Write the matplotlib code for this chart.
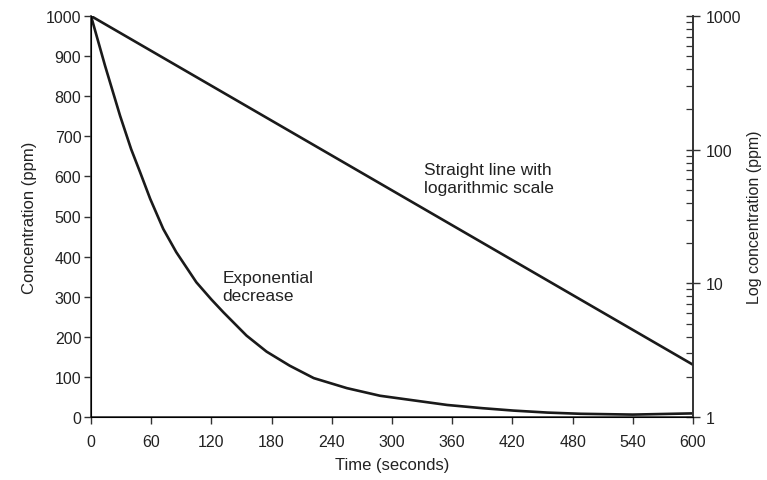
import matplotlib
matplotlib.use("Agg")
import matplotlib.pyplot as plt
from matplotlib.ticker import LogLocator, NullFormatter, FixedLocator

plt.rcParams['font.family'] = ['Liberation Sans', 'DejaVu Sans']

# Data
time_exp = [0, 14, 29, 40, 49, 59, 72, 85, 105, 120, 132, 155, 175, 198, 222, 255, 288, 320,
            355, 390, 421, 455, 488, 540, 600]
conc_exp = [1000, 876, 751, 668, 610, 544, 469, 411, 336, 293, 261, 203, 163, 128, 97, 72, 53, 42,
            30, 22, 16, 11, 8, 6, 9]

time_log = [0, 600]
conc_log = [1000, 2.46]

x_ticks = [0, 60, 120, 180, 240, 300, 360, 420, 480, 540, 600]
y_ticks = [0, 100, 200, 300, 400, 500, 600, 700, 800, 900, 1000]
log_ticks = [1, 10, 100, 1000]

text_col = '#222222'
axis_col = '#333333'
line_col = '#1a1a1a'

fig = plt.figure(figsize=(7.67, 4.81), dpi=100)
ax = fig.add_axes([91/767, 1 - 418/481, (693 - 91)/767, (418 - 17)/481])

ax.plot(time_exp, conc_exp, color=line_col, lw=1.9, solid_joinstyle='round')
ax.set_xlim(0, 600)
ax.set_ylim(0, 1000)
ax.set_xticks(x_ticks)
ax.set_yticks(y_ticks)
ax.tick_params(axis='both', direction='out', length=5, width=1.0, colors=axis_col,
               labelcolor=text_col, labelsize=11.5)
ax.tick_params(axis='x', pad=7)
ax.tick_params(axis='y', pad=2)
ax.spines['top'].set_visible(False)
for side in ['left', 'bottom', 'right']:
    ax.spines[side].set_color(axis_col)
    ax.spines[side].set_linewidth(1.2)
ax.set_xlabel('Time (seconds)', fontsize=12, color=text_col, labelpad=6)
ax.set_ylabel('Concentration (ppm)', fontsize=12, color=text_col, labelpad=6)

ax2 = ax.twinx()
ax2.set_yscale('log')
ax2.set_ylim(1, 1000)
ax2.plot(time_log, conc_log, color=line_col, lw=1.9)
ax2.yaxis.set_major_locator(FixedLocator(log_ticks))
ax2.set_yticklabels([str(v) for v in log_ticks])
ax2.yaxis.set_minor_locator(LogLocator(base=10, subs=range(2, 10)))
ax2.yaxis.set_minor_formatter(NullFormatter())
ax2.tick_params(axis='y', which='major', direction='inout', length=10, width=1.0,
                colors=axis_col, labelcolor=text_col, labelsize=11.5, pad=4)
ax2.tick_params(axis='y', which='minor', direction='in', length=5, width=0.9, colors=axis_col)
ax2.spines['top'].set_visible(False)
ax2.spines['right'].set_color(axis_col)
ax2.spines['right'].set_linewidth(1.2)
ax2.set_ylabel('Log concentration (ppm)', fontsize=11.5, color=text_col, labelpad=4)

ax.text(131, 325, 'Exponential\ndecrease', fontsize=12.5, color=text_col,
        ha='left', va='center', linespacing=1.25)
ax.text(332, 596, 'Straight line with\nlogarithmic scale', fontsize=12.5, color=text_col,
        ha='left', va='center', linespacing=1.25)

fig.savefig('out.png', dpi=100)
